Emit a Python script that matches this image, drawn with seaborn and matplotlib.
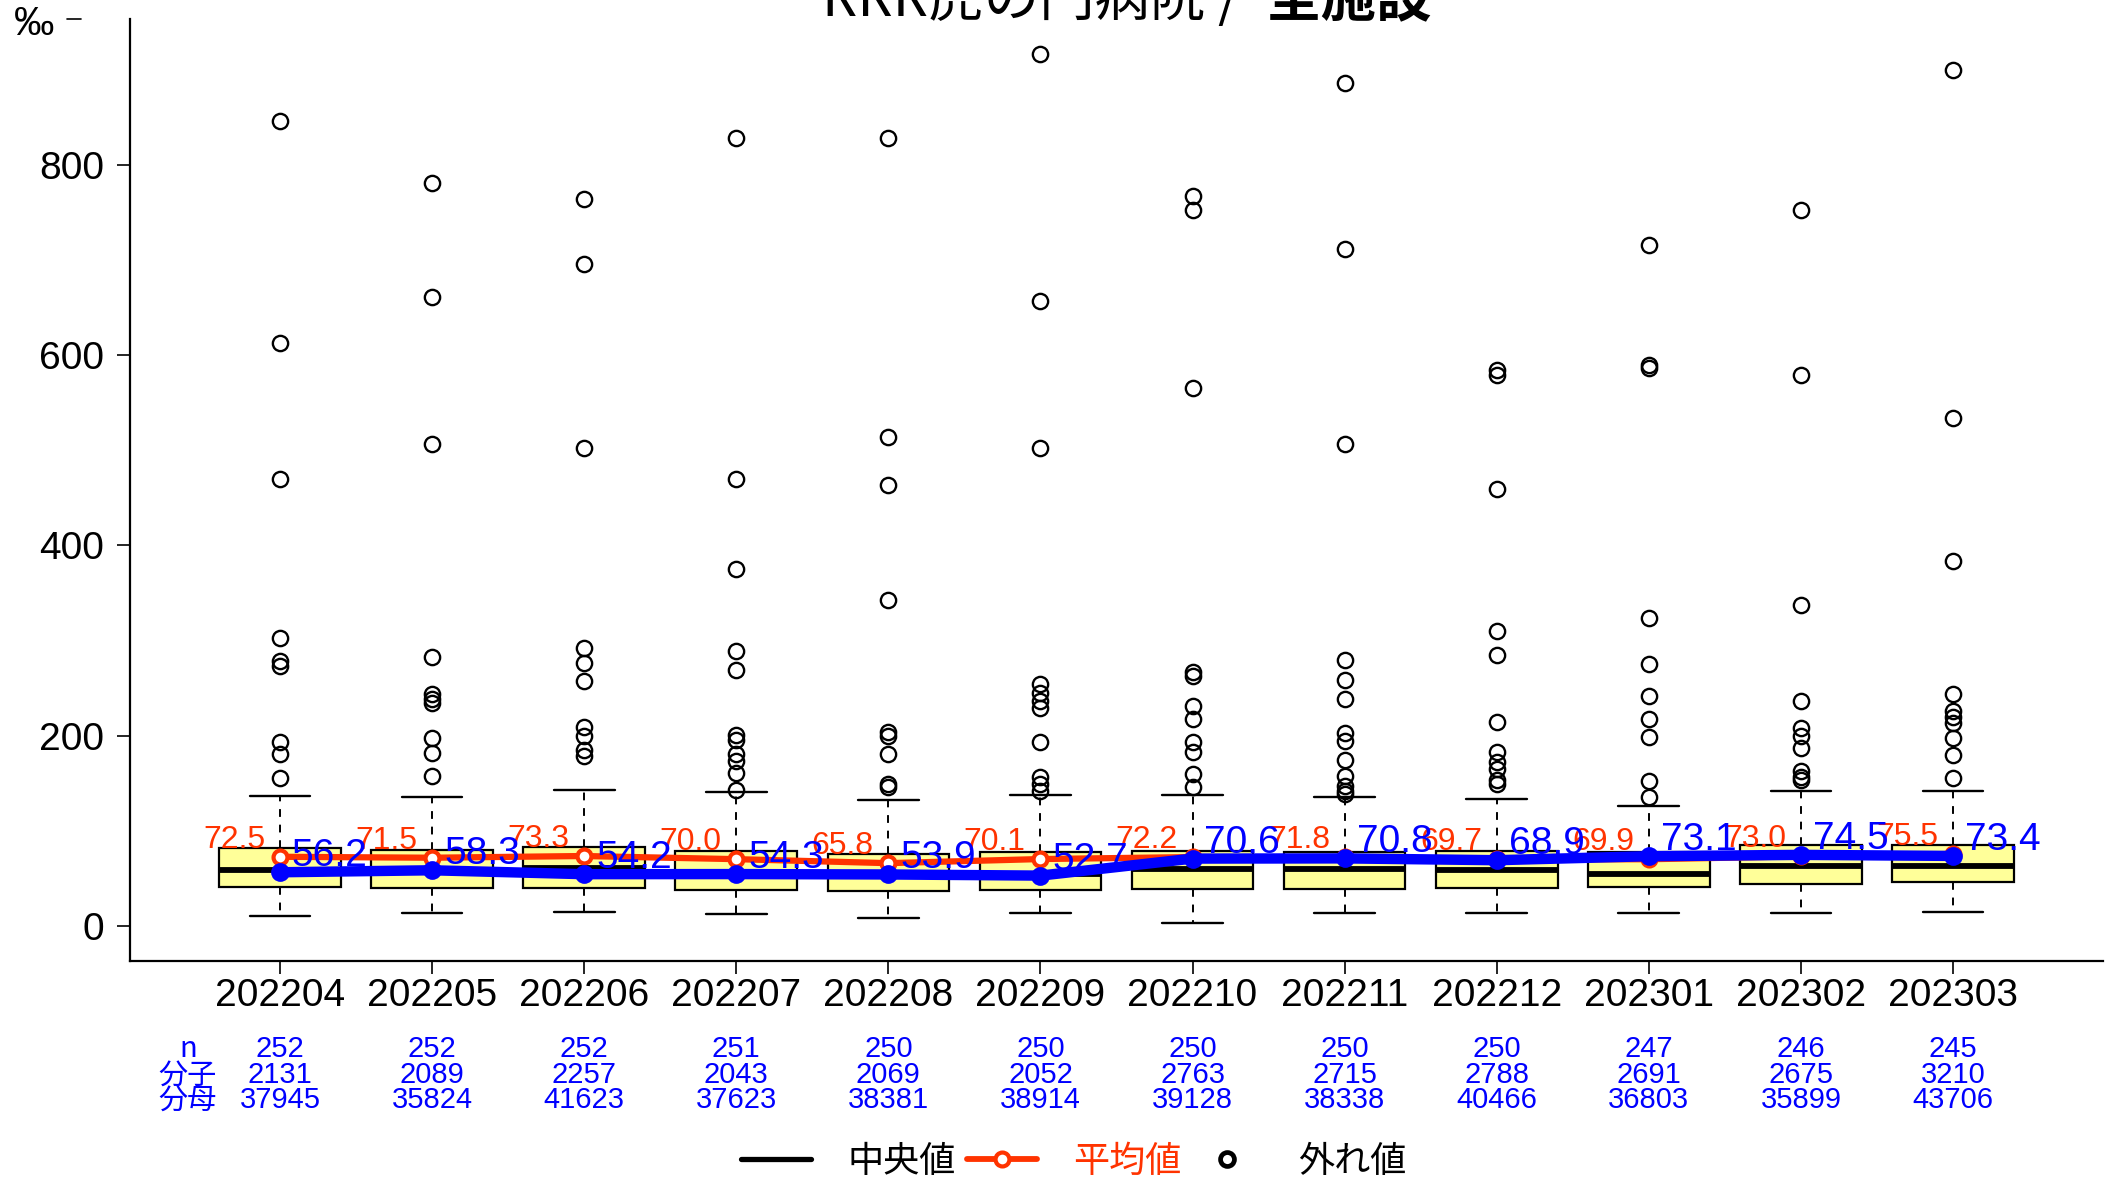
import numpy as np
import pandas as pd
import matplotlib
matplotlib.use("Agg")
import matplotlib.pyplot as plt
from matplotlib.lines import Line2D
from matplotlib.transforms import blended_transform_factory
import seaborn as sns

# ---------------- data ----------------
months = ["202204", "202205", "202206", "202207", "202208", "202209",
          "202210", "202211", "202212", "202301", "202302", "202303"]
whis_lo = [10.5, 13.7, 14.4, 12.3, 8.4, 13.7, 3.2, 13.7, 13.7, 13.0, 13.0, 14.7]
q1 = [40.4, 39.3, 39.3, 37.5, 36.5, 37.5, 38.9, 38.9, 39.3, 41.0, 43.5, 45.6]
medians = [58.3, 57.5, 60.3, 55.5, 55.0, 54.0, 59.3, 59.3, 58.3, 54.0, 62.8, 63.1]
q3 = [81.4, 79.6, 82.4, 78.9, 75.0, 77.8, 78.9, 77.8, 78.6, 77.8, 84.9, 84.9]
whis_hi = [136.7, 135.0, 142.7, 141.0, 132.2, 137.4, 137.4, 135.7, 133.2, 125.9, 141.7, 141.7]
outliers = [
    [846, 613, 470, 303, 278, 273, 193, 181, 155],
    [781, 661, 507, 283, 244, 238, 234, 197, 182, 157],
    [764, 696, 502, 292, 276, 257, 209, 199, 185, 178],
    [828, 470, 375, 289, 269, 201, 195, 181, 173, 161, 143],
    [828, 514, 463, 343, 204, 199, 181, 149, 146],
    [917, 657, 502, 254, 245, 236, 229, 193, 156, 149, 142],
    [767, 753, 565, 267, 263, 231, 217, 193, 183, 160, 146],
    [886, 712, 507, 279, 258, 238, 203, 194, 174, 157, 147, 142, 139],
    [584, 579, 459, 310, 285, 214, 183, 172, 165, 153, 149],
    [716, 590, 587, 324, 275, 242, 217, 198, 152, 135],
    [753, 579, 337, 236, 208, 199, 187, 163, 156, 153],
    [900, 534, 384, 244, 226, 220, 213, 197, 180, 155],
]
mean_vals = [72.5, 71.5, 73.3, 70.0, 65.8, 70.1, 72.2, 71.8, 69.7, 69.9, 73.0, 75.5]
overall_vals = [56.2, 58.3, 54.2, 54.3, 53.9, 52.7, 70.6, 70.8, 68.9, 73.1, 74.5, 73.4]
n_vals = [252, 252, 252, 251, 250, 250, 250, 250, 250, 247, 246, 245]
numer_vals = [2131, 2089, 2257, 2043, 2069, 2052, 2763, 2715, 2788, 2691, 2675, 3210]
denom_vals = [37945, 35824, 41623, 37623, 38381, 38914, 39128, 38338, 40466, 36803, 35899, 43706]
row_labels = ["n", "分子", "分母"]
title_left = "RRR虎の門病院 /"
title_right = "全施設"
legend_labels = ["中央値", "平均値", "外れ値"]
unit_label = "‰"

# ---------------- style ----------------
RED = "#FF3300"
BLUE = "#0000FF"
BOXFILL = "#FFFF99"

sns.set_theme(style="ticks")
plt.rcParams["font.family"] = ["Liberation Sans", "Noto Sans CJK JP", "DejaVu Sans"]
plt.rcParams["axes.unicode_minus"] = False
CJK = ["Noto Sans CJK JP", "DejaVu Sans"]

W, H = 2109, 1180
fig = plt.figure(figsize=(W / 100, H / 100), dpi=100)
ax = fig.add_axes([130 / W, 1 - 961 / H, (2103 - 130) / W, (961 - 19) / H])

pos = np.arange(len(months))
df = pd.DataFrame({"pos": pos, "month": months, "mean": mean_vals,
                   "overall": overall_vals})

stats = []
for i in range(len(months)):
    stats.append(dict(med=medians[i], q1=q1[i], q3=q3[i], whislo=whis_lo[i],
                      whishi=whis_hi[i], fliers=np.array(outliers[i], dtype=float),
                      label=months[i]))

ax.bxp(stats, positions=pos, widths=0.8, patch_artist=True, capwidths=0.4,
       boxprops=dict(facecolor=BOXFILL, edgecolor="black", linewidth=1.6),
       medianprops=dict(color="black", linewidth=4.2, solid_capstyle="butt"),
       whiskerprops=dict(color="black", linewidth=1.4, linestyle=(0, (4, 4))),
       capprops=dict(color="black", linewidth=1.7),
       flierprops=dict(marker="o", markerfacecolor="none", markeredgecolor="black",
                       markersize=11, markeredgewidth=1.7),
       zorder=2)

sns.lineplot(data=df, x="pos", y="mean", ax=ax, color=RED, linewidth=4.5,
             marker="o", markersize=10, markerfacecolor="white",
             markeredgecolor=RED, markeredgewidth=3, zorder=3)
for x, v in zip(pos, mean_vals):
    ax.annotate(f"{v:.1f}", xy=(x, v), xytext=(-10.5, 6.5), textcoords="offset points",
                ha="right", va="baseline", color=RED, fontsize=23, zorder=3.5)

sns.lineplot(data=df, x="pos", y="overall", ax=ax, color=BLUE, linewidth=7.5,
             marker="o", markersize=13.5, markerfacecolor=BLUE,
             markeredgecolor=BLUE, markeredgewidth=0, zorder=4)
for x, v in zip(pos, overall_vals):
    ax.annotate(f"{v:.1f}", xy=(x, v), xytext=(8.6, 4.3), textcoords="offset points",
                ha="left", va="baseline", color=BLUE, fontsize=28, zorder=5)

ax.set_xlim(-0.986, 11.986)
ax.set_ylim(-37.1, 953.5)
ax.set_xticks(pos, months)
ax.set_yticks([0, 200, 400, 600, 800])
ax.set_xlabel("")
ax.set_ylabel("")
sns.despine(ax=ax)
for s in ("left", "bottom"):
    ax.spines[s].set_linewidth(1.6)
    ax.spines[s].set_color("black")
ax.tick_params(axis="both", direction="out", length=9.4, width=1.2,
               labelsize=28, colors="black")
ax.tick_params(axis="x", pad=2.5)
ax.tick_params(axis="y", pad=9)
ax.grid(False)

# bottom table
tr = blended_transform_factory(ax.transData, fig.transFigure)
row_y = [1 - 1057 / H, 1 - 1083.3 / H, 1 - 1108.3 / H]
rows = [n_vals, numer_vals, denom_vals]
for ry, lab in zip(row_y, row_labels):
    ax.text(-0.605, ry, lab, transform=tr, ha="center", va="baseline",
            color=BLUE, fontsize=21, family=CJK, clip_on=False)
for ry, vals in zip(row_y, rows):
    for x, v in zip(pos, vals):
        ax.text(x, ry, str(v), transform=tr, ha="center", va="baseline",
                color=BLUE, fontsize=21, clip_on=False)

# unit label at top-left
fig.text(34 / W, 1 - 24 / H, unit_label, ha="center", va="center",
         fontsize=29, color="black")
fig.add_artist(Line2D([67 / W, 81 / W], [1 - 19 / H, 1 - 19 / H],
                      transform=fig.transFigure, color="black", lw=1.2))

# title (cut at the top edge)
fig.text(1240 / W, 1 - 16 / H, title_left, ha="right", va="baseline",
         fontsize=40, family=CJK, color="black")
fig.text(1266 / W, 1 - 16 / H, title_right, ha="left", va="baseline",
         fontsize=40, family=CJK, weight="bold", color="black")

# legend
handles = [
    Line2D([], [], color="black", lw=3.8),
    Line2D([], [], color=RED, lw=4.2, marker="o", markersize=10,
           markerfacecolor="white", markeredgecolor=RED, markeredgewidth=3),
    Line2D([], [], ls="none", marker="o", markersize=10, markerfacecolor="white",
           markeredgecolor="black", markeredgewidth=3.4),
]
leg = fig.legend(handles, legend_labels, loc="center",
                 bbox_to_anchor=(1074 / W, 1 - 1162 / H), ncol=3, frameon=False,
                 prop={"family": CJK, "size": 26}, handlelength=1.94,
                 handletextpad=1.0, columnspacing=0.3, borderpad=0, borderaxespad=0)
for t, c in zip(leg.get_texts(), ["black", RED, "black"]):
    t.set_color(c)

fig.savefig("out.png", dpi=100)
